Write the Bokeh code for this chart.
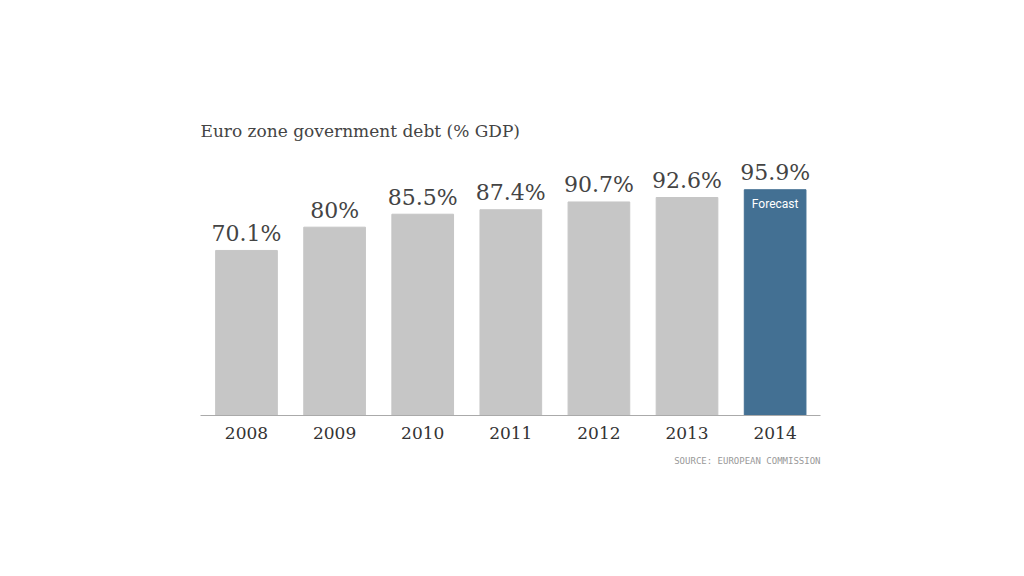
from bokeh.plotting import figure
from bokeh.models import Range1d, FixedTicker, ColumnDataSource, Label, Title
from bokeh.core.properties import value
from bokeh.embed import file_html
from bokeh.resources import INLINE

years = ["2008", "2009", "2010", "2011", "2012", "2013", "2014"]
debt = [70.1, 80.0, 85.5, 87.4, 90.7, 92.6, 95.9]
labels = ["70.1%", "80%", "85.5%", "87.4%", "90.7%", "92.6%", "95.9%"]
forecast = [False, False, False, False, False, False, True]
title_text = "Euro zone government debt (% GDP)"
source_text = "SOURCE: EUROPEAN COMMISSION"

GRAY = "#c6c6c6"
BLUE = "#437093"

xs = list(range(len(years)))
colors = [BLUE if f else GRAY for f in forecast]
src = ColumnDataSource(dict(x=xs, top=debt, label=labels, color=colors))

p = figure(width=1008, height=560, output_backend="svg", toolbar_location=None,
           x_range=Range1d(-0.522, 6.515), y_range=Range1d(0, 133.8),
           min_border_left=200, min_border_right=188, min_border_top=100,
           min_border_bottom=145)
p.outline_line_color = None
p.background_fill_color = "white"
p.border_fill_color = "white"
p.xgrid.visible = False
p.ygrid.visible = False
p.yaxis.visible = False

p.vbar(x="x", top="top", bottom=0, width=0.70, color="color", source=src)

p.text(x="x", y="top", text="label", source=src, text_align="center",
       text_baseline="middle", y_offset=-17, text_font=value("DejaVu Serif"),
       text_font_size="22px", text_color="#444444")

fsrc = ColumnDataSource(dict(x=[x for x, f in zip(xs, forecast) if f],
                             y=[d for d, f in zip(debt, forecast) if f],
                             t=["Forecast" for f in forecast if f]))
p.text(x="x", y="y", text="t", source=fsrc, text_align="center",
       text_baseline="middle", y_offset=14, text_font=value("Roboto"),
       text_font_size="12px", text_color="white")

ax = p.xaxis[0]
ax.ticker = FixedTicker(ticks=xs)
ax.major_label_overrides = {i: y for i, y in enumerate(years)}
ax.major_tick_line_color = None
ax.minor_tick_line_color = None
ax.axis_line_color = "#aaaaaa"
ax.axis_line_width = 1
ax.major_label_standoff = 5
ax.major_label_text_font = "DejaVu Serif"
ax.major_label_text_font_size = "17px"
ax.major_label_text_color = "#333333"

p.add_layout(Label(x=-0.522, y=(415 - 130) / 2.355, text=title_text,
                   text_font="DejaVu Serif", text_font_size="17px",
                   text_color="#444444", text_baseline="alphabetic"))

p.add_layout(Title(text=source_text, align="right", text_font="DejaVu Sans Mono",
                   text_font_size="9px", text_font_style="normal",
                   text_color="#999999", standoff=24), "below")

open("out.html", "w").write(file_html(p, INLINE))
